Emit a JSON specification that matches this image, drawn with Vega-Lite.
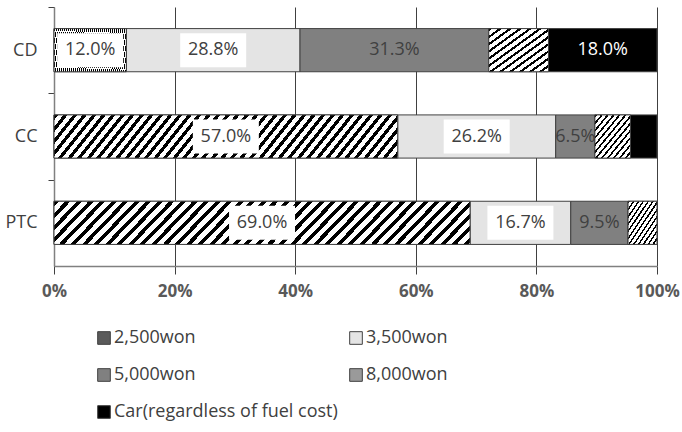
{
  "$schema": "https://vega.github.io/schema/vega-lite/v6.json",
  "width": 603,
  "height": 259,
  "autosize": "none",
  "padding": {"left": 54, "top": 7, "right": 25, "bottom": 166},
  "config": {"view": {"stroke": null}, "font": "Open Sans"},
  "data": {
    "values": [
      {"cat": "CD", "group": "2,500won", "value": 12.0, "label": "12.0%"},
      {"cat": "CD", "group": "3,500won", "value": 28.8, "label": "28.8%"},
      {"cat": "CD", "group": "5,000won", "value": 31.3, "label": "31.3%"},
      {"cat": "CD", "group": "8,000won", "value": 9.9, "label": ""},
      {"cat": "CD", "group": "Car(regardless of fuel cost)", "value": 18.0, "label": "18.0%"},
      {"cat": "CC", "group": "2,500won", "value": 57.0, "label": "57.0%"},
      {"cat": "CC", "group": "3,500won", "value": 26.2, "label": "26.2%"},
      {"cat": "CC", "group": "5,000won", "value": 6.5, "label": "6.5%"},
      {"cat": "CC", "group": "8,000won", "value": 5.9, "label": ""},
      {"cat": "CC", "group": "Car(regardless of fuel cost)", "value": 4.4, "label": ""},
      {"cat": "PTC", "group": "2,500won", "value": 69.0, "label": "69.0%"},
      {"cat": "PTC", "group": "3,500won", "value": 16.7, "label": "16.7%"},
      {"cat": "PTC", "group": "5,000won", "value": 9.5, "label": "9.5%"},
      {"cat": "PTC", "group": "8,000won", "value": 4.8, "label": ""}
    ]
  },
  "transform": [
    {"stack": "value", "groupby": ["cat"], "sort": [{"field": "group", "order": "ascending"}], "as": ["start", "end"]},
    {"calculate": "(datum.start + datum.end) / 2", "as": "mid"}
  ],
  "encoding": {
    "y": {
      "field": "cat", "type": "nominal", "sort": ["CD", "CC", "PTC"],
      "scale": {"paddingInner": 0.5, "paddingOuter": 0.25},
      "axis": {
        "title": null, "domainColor": "#808080", "domainWidth": 1.5,
        "tickColor": "#404040", "tickSize": 6, "bandPosition": 0, "tickOffset": -21.6, "labelOffset": 21.6,
        "labelPadding": 11, "labelFont": "Open Sans", "labelFontSize": 18, "labelColor": "#404040", "grid": false
      }
    }
  },
  "layer": [
    {
      "mark": {"type": "bar", "stroke": "#404040", "strokeWidth": 1},
      "encoding": {
        "x": {
          "field": "start", "type": "quantitative",
          "scale": {"domain": [0, 100], "nice": false},
          "axis": {
            "title": null, "values": [0, 20, 40, 60, 80, 100], "labelExpr": "datum.value + '%'",
            "grid": true, "gridColor": "#404040", "gridWidth": 1,
            "domainColor": "#808080", "domainWidth": 1.5, "tickColor": "#404040", "tickSize": 8,
            "labelPadding": 9, "labelFont": "Open Sans", "labelFontSize": 17, "labelFontWeight": "bold",
            "labelColor": "#595959", "labelOverlap": false, "labelFlush": false
          }
        },
        "x2": {"field": "end"},
        "color": {
          "field": "group", "type": "nominal",
          "scale": {
            "domain": ["2,500won", "3,500won", "5,000won", "8,000won", "Car(regardless of fuel cost)"],
            "range": ["#5a5a5a", "#e4e4e4", "#808080", "#9a9a9a", "#000000"]
          },
          "legend": {
            "title": null, "orient": "none", "legendX": 41, "legendY": 322, "direction": "horizontal", "columns": 2,
            "columnPadding": 9, "rowPadding": 19, "padding": 0,
            "symbolType": "square", "symbolSize": 160, "symbolStrokeColor": "#404040", "symbolStrokeWidth": 1,
            "labelFont": "Open Sans", "labelFontSize": 18, "labelColor": "#404040", "labelOffset": 1, "labelLimit": 400
          }
        }
      }
    },
    {
      "transform": [{"filter": "datum.group == '2,500won'"}],
      "mark": {"type": "bar", "stroke": "#404040", "strokeWidth": 1,
        "fill": {"gradient": "linear", "x1": 0, "y1": 0, "x2": 1.1, "y2": 0.11, "stops": [
          {"offset":0,"color":"#000"},{"offset":0.011,"color":"#000"},{"offset":0.011,"color":"#fff"},{"offset":0.025,"color":"#fff"},
          {"offset":0.025,"color":"#000"},{"offset":0.036,"color":"#000"},{"offset":0.036,"color":"#fff"},{"offset":0.05,"color":"#fff"},
          {"offset":0.05,"color":"#000"},{"offset":0.061,"color":"#000"},{"offset":0.061,"color":"#fff"},{"offset":0.075,"color":"#fff"},
          {"offset":0.075,"color":"#000"},{"offset":0.086,"color":"#000"},{"offset":0.086,"color":"#fff"},{"offset":0.1,"color":"#fff"},
          {"offset":0.1,"color":"#000"},{"offset":0.111,"color":"#000"},{"offset":0.111,"color":"#fff"},{"offset":0.125,"color":"#fff"},
          {"offset":0.125,"color":"#000"},{"offset":0.136,"color":"#000"},{"offset":0.136,"color":"#fff"},{"offset":0.15,"color":"#fff"},
          {"offset":0.15,"color":"#000"},{"offset":0.161,"color":"#000"},{"offset":0.161,"color":"#fff"},{"offset":0.175,"color":"#fff"},
          {"offset":0.175,"color":"#000"},{"offset":0.186,"color":"#000"},{"offset":0.186,"color":"#fff"},{"offset":0.2,"color":"#fff"},
          {"offset":0.2,"color":"#000"},{"offset":0.211,"color":"#000"},{"offset":0.211,"color":"#fff"},{"offset":0.225,"color":"#fff"},
          {"offset":0.225,"color":"#000"},{"offset":0.236,"color":"#000"},{"offset":0.236,"color":"#fff"},{"offset":0.25,"color":"#fff"},
          {"offset":0.25,"color":"#000"},{"offset":0.261,"color":"#000"},{"offset":0.261,"color":"#fff"},{"offset":0.275,"color":"#fff"},
          {"offset":0.275,"color":"#000"},{"offset":0.286,"color":"#000"},{"offset":0.286,"color":"#fff"},{"offset":0.3,"color":"#fff"},
          {"offset":0.3,"color":"#000"},{"offset":0.311,"color":"#000"},{"offset":0.311,"color":"#fff"},{"offset":0.325,"color":"#fff"},
          {"offset":0.325,"color":"#000"},{"offset":0.336,"color":"#000"},{"offset":0.336,"color":"#fff"},{"offset":0.35,"color":"#fff"},
          {"offset":0.35,"color":"#000"},{"offset":0.361,"color":"#000"},{"offset":0.361,"color":"#fff"},{"offset":0.375,"color":"#fff"},
          {"offset":0.375,"color":"#000"},{"offset":0.386,"color":"#000"},{"offset":0.386,"color":"#fff"},{"offset":0.4,"color":"#fff"},
          {"offset":0.4,"color":"#000"},{"offset":0.411,"color":"#000"},{"offset":0.411,"color":"#fff"},{"offset":0.425,"color":"#fff"},
          {"offset":0.425,"color":"#000"},{"offset":0.436,"color":"#000"},{"offset":0.436,"color":"#fff"},{"offset":0.45,"color":"#fff"},
          {"offset":0.45,"color":"#000"},{"offset":0.461,"color":"#000"},{"offset":0.461,"color":"#fff"},{"offset":0.475,"color":"#fff"},
          {"offset":0.475,"color":"#000"},{"offset":0.486,"color":"#000"},{"offset":0.486,"color":"#fff"},{"offset":0.5,"color":"#fff"},
          {"offset":0.5,"color":"#000"},{"offset":0.511,"color":"#000"},{"offset":0.511,"color":"#fff"},{"offset":0.525,"color":"#fff"},
          {"offset":0.525,"color":"#000"},{"offset":0.536,"color":"#000"},{"offset":0.536,"color":"#fff"},{"offset":0.55,"color":"#fff"},
          {"offset":0.55,"color":"#000"},{"offset":0.561,"color":"#000"},{"offset":0.561,"color":"#fff"},{"offset":0.575,"color":"#fff"},
          {"offset":0.575,"color":"#000"},{"offset":0.586,"color":"#000"},{"offset":0.586,"color":"#fff"},{"offset":0.6,"color":"#fff"},
          {"offset":0.6,"color":"#000"},{"offset":0.611,"color":"#000"},{"offset":0.611,"color":"#fff"},{"offset":0.625,"color":"#fff"},
          {"offset":0.625,"color":"#000"},{"offset":0.636,"color":"#000"},{"offset":0.636,"color":"#fff"},{"offset":0.65,"color":"#fff"},
          {"offset":0.65,"color":"#000"},{"offset":0.661,"color":"#000"},{"offset":0.661,"color":"#fff"},{"offset":0.675,"color":"#fff"},
          {"offset":0.675,"color":"#000"},{"offset":0.686,"color":"#000"},{"offset":0.686,"color":"#fff"},{"offset":0.7,"color":"#fff"},
          {"offset":0.7,"color":"#000"},{"offset":0.711,"color":"#000"},{"offset":0.711,"color":"#fff"},{"offset":0.725,"color":"#fff"},
          {"offset":0.725,"color":"#000"},{"offset":0.736,"color":"#000"},{"offset":0.736,"color":"#fff"},{"offset":0.75,"color":"#fff"},
          {"offset":0.75,"color":"#000"},{"offset":0.761,"color":"#000"},{"offset":0.761,"color":"#fff"},{"offset":0.775,"color":"#fff"},
          {"offset":0.775,"color":"#000"},{"offset":0.786,"color":"#000"},{"offset":0.786,"color":"#fff"},{"offset":0.8,"color":"#fff"},
          {"offset":0.8,"color":"#000"},{"offset":0.811,"color":"#000"},{"offset":0.811,"color":"#fff"},{"offset":0.825,"color":"#fff"},
          {"offset":0.825,"color":"#000"},{"offset":0.836,"color":"#000"},{"offset":0.836,"color":"#fff"},{"offset":0.85,"color":"#fff"},
          {"offset":0.85,"color":"#000"},{"offset":0.861,"color":"#000"},{"offset":0.861,"color":"#fff"},{"offset":0.875,"color":"#fff"},
          {"offset":0.875,"color":"#000"},{"offset":0.886,"color":"#000"},{"offset":0.886,"color":"#fff"},{"offset":0.9,"color":"#fff"},
          {"offset":0.9,"color":"#000"},{"offset":0.911,"color":"#000"},{"offset":0.911,"color":"#fff"},{"offset":0.925,"color":"#fff"},
          {"offset":0.925,"color":"#000"},{"offset":0.936,"color":"#000"},{"offset":0.936,"color":"#fff"},{"offset":0.95,"color":"#fff"},
          {"offset":0.95,"color":"#000"},{"offset":0.961,"color":"#000"},{"offset":0.961,"color":"#fff"},{"offset":0.975,"color":"#fff"},
          {"offset":0.975,"color":"#000"},{"offset":0.986,"color":"#000"},{"offset":0.986,"color":"#fff"},{"offset":1,"color":"#fff"}
        ]}},
      "encoding": {
        "x": {"field": "start", "type": "quantitative"},
        "x2": {"field": "end"}
      }
    },
    {
      "transform": [{"filter": "datum.group == '8,000won'"}],
      "mark": {"type": "bar", "stroke": "#404040", "strokeWidth": 1,
        "fill": {"gradient": "linear", "x1": 0, "y1": 0, "x2": 1, "y2": 1, "stops": [
          {"offset":0,"color":"#000"},{"offset":0.03,"color":"#000"},{"offset":0.03,"color":"#fff"},{"offset":0.0833,"color":"#fff"},
          {"offset":0.0833,"color":"#000"},{"offset":0.1133,"color":"#000"},{"offset":0.1133,"color":"#fff"},{"offset":0.1667,"color":"#fff"},
          {"offset":0.1667,"color":"#000"},{"offset":0.1967,"color":"#000"},{"offset":0.1967,"color":"#fff"},{"offset":0.25,"color":"#fff"},
          {"offset":0.25,"color":"#000"},{"offset":0.28,"color":"#000"},{"offset":0.28,"color":"#fff"},{"offset":0.3333,"color":"#fff"},
          {"offset":0.3333,"color":"#000"},{"offset":0.3633,"color":"#000"},{"offset":0.3633,"color":"#fff"},{"offset":0.4167,"color":"#fff"},
          {"offset":0.4167,"color":"#000"},{"offset":0.4467,"color":"#000"},{"offset":0.4467,"color":"#fff"},{"offset":0.5,"color":"#fff"},
          {"offset":0.5,"color":"#000"},{"offset":0.53,"color":"#000"},{"offset":0.53,"color":"#fff"},{"offset":0.5833,"color":"#fff"},
          {"offset":0.5833,"color":"#000"},{"offset":0.6133,"color":"#000"},{"offset":0.6133,"color":"#fff"},{"offset":0.6667,"color":"#fff"},
          {"offset":0.6667,"color":"#000"},{"offset":0.6967,"color":"#000"},{"offset":0.6967,"color":"#fff"},{"offset":0.75,"color":"#fff"},
          {"offset":0.75,"color":"#000"},{"offset":0.78,"color":"#000"},{"offset":0.78,"color":"#fff"},{"offset":0.8333,"color":"#fff"},
          {"offset":0.8333,"color":"#000"},{"offset":0.8633,"color":"#000"},{"offset":0.8633,"color":"#fff"},{"offset":0.9167,"color":"#fff"},
          {"offset":0.9167,"color":"#000"},{"offset":0.9467,"color":"#000"},{"offset":0.9467,"color":"#fff"},{"offset":1,"color":"#fff"}
        ]}},
      "encoding": {
        "x": {"field": "start", "type": "quantitative"},
        "x2": {"field": "end"}
      }
    },
    {
      "transform": [
        {"filter": "datum.label != '' && (datum.group == '2,500won' || datum.group == '3,500won')"}
      ],
      "mark": {"type": "point", "shape": "M-1,-0.515H1V0.515H-1Z", "size": 4356, "filled": true, "fill": "#ffffff", "opacity": 1, "strokeWidth": 0},
      "encoding": {
        "x": {"field": "mid", "type": "quantitative"}
      }
    },
    {
      "transform": [{"filter": "datum.label != ''"}],
      "mark": {"type": "text", "font": "Open Sans", "fontSize": 18, "align": "center", "baseline": "middle"},
      "encoding": {
        "x": {"field": "mid", "type": "quantitative"},
        "text": {"field": "label"},
        "color": {
          "condition": {"test": "datum.group == 'Car(regardless of fuel cost)'", "value": "#ffffff"},
          "value": "#404040"
        }
      }
    }
  ]
}
